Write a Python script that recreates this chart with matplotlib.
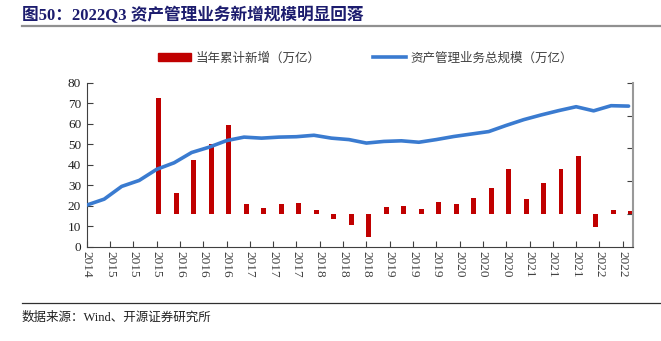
import matplotlib
matplotlib.use("Agg")
import matplotlib.pyplot as plt
from matplotlib.lines import Line2D
from matplotlib.patches import Patch

plt.rcParams['font.family'] = ['Liberation Serif', 'Noto Sans CJK SC', 'DejaVu Sans']
plt.rcParams['axes.unicode_minus'] = False

# 资产管理业务总规模（万亿），季度
line_quarters = ['2014Q4',
                 '2015Q1', '2015Q2', '2015Q3', '2015Q4',
                 '2016Q1', '2016Q2', '2016Q3', '2016Q4',
                 '2017Q1', '2017Q2', '2017Q3', '2017Q4',
                 '2018Q1', '2018Q2', '2018Q3', '2018Q4',
                 '2019Q1', '2019Q2', '2019Q3', '2019Q4',
                 '2020Q1', '2020Q2', '2020Q3', '2020Q4',
                 '2021Q1', '2021Q2', '2021Q3', '2021Q4',
                 '2022Q1', '2022Q2', '2022Q3']
total_scale = [20.4,
               23.3, 29.5, 32.4, 37.8,
               41.0, 46.0, 48.6, 51.8,
               53.5, 53.0, 53.5, 53.7,
               54.4, 53.0, 52.3, 50.6,
               51.4, 51.7, 51.0, 52.3,
               53.8, 55.0, 56.2, 59.2,
               62.0, 64.3, 66.4, 68.3,
               66.3, 68.8, 68.6]

# 当年累计新增（万亿），季度
bar_quarters = line_quarters[4:]
ytd_increase = [17.7,
                3.2, 8.2, 10.6, 13.5,
                1.6, 1.0, 1.6, 1.7,
                0.6, -0.7, -1.6, -3.5,
                1.1, 1.3, 0.8, 1.9,
                1.6, 2.5, 3.9, 6.8,
                2.3, 4.7, 6.8, 8.8,
                -1.9, 0.6, 0.45]

tick_labels = ['2014', '2015', '2015', '2015', '2016', '2016', '2016',
               '2017', '2017', '2017', '2018', '2018', '2018',
               '2019', '2019', '2019', '2020', '2020', '2020',
               '2021', '2021', '2021', '2022', '2022']


def month_index(q):
    # months since 2014-12
    year, quarter = int(q[:4]), int(q[5])
    return (year - 2014) * 12 + quarter * 3 - 12


line_x = [month_index(q) for q in line_quarters]
bar_x = [month_index(q) + 0.4 for q in bar_quarters]
tick_x = [4 * i for i in range(len(tick_labels))]

fig = plt.figure(figsize=(6.61, 3.41), dpi=100)
ax = fig.add_axes([0.1312, 0.2757, 0.8268, 0.4818])
ax2 = ax.twinx()

bar_color = '#C00000'
line_color = '#3A7BD0'

ax2.bar(bar_x, ytd_increase, width=0.85, color=bar_color, zorder=2)
ax.plot(line_x, total_scale, color=line_color, lw=2.6,
        solid_joinstyle='round', solid_capstyle='round', zorder=3)
ax.set_zorder(ax2.get_zorder() + 1)
ax.patch.set_visible(False)

ax.set_xlim(0, 93.8)
ax.set_ylim(0, 80)
ax.set_yticks(range(0, 81, 10))
ax2.set_ylim(-5, 20)
ax2.set_yticks([0, 5, 10, 15, 20])
ax2.set_yticklabels([])

ax.set_xticks(tick_x)
ax.set_xticklabels(tick_labels, rotation=-90, color='#404040', fontsize=9.5)
ax.tick_params(axis='x', direction='in', length=4, color='#404040', pad=3)
ax.tick_params(axis='y', direction='in', length=4, color='#404040',
               labelsize=9.5, labelcolor='#202020', pad=4)
ax2.tick_params(axis='y', direction='in', length=4, color='#404040')

for sp in ['top', 'right']:
    ax.spines[sp].set_visible(False)
for sp in ['top', 'left', 'bottom']:
    ax2.spines[sp].set_visible(False)
ax.spines['left'].set_color('#404040')
ax.spines['bottom'].set_color('#404040')
ax2.spines['right'].set_color('#999999')
ax2.spines['right'].set_linewidth(1.5)

handles = [Patch(color=bar_color), Line2D([0], [0], color=line_color, lw=2.6)]
labels = ['当年累计新增（万亿）', '资产管理业务总规模（万亿）']
fig.legend(handles, labels, loc='center', bbox_to_anchor=(0.553, 0.83), ncol=2,
           frameon=False, handlelength=2.6, handleheight=0.55,
           columnspacing=4.2, handletextpad=0.4,
           labelcolor='#404040', prop={'family': ['Noto Sans CJK SC'], 'size': 9})

fig.text(0.033, 0.955, '图50：2022Q3 资产管理业务新增规模明显回落', fontsize=12,
         fontweight='bold', color='#1C1C6E', va='center', ha='left')
fig.add_artist(Line2D([0.033, 1.0], [0.925, 0.925], color='#909090', lw=1.6))

fig.add_artist(Line2D([0.033, 1.0], [0.112, 0.112], color='#303030', lw=0.9))
fig.text(0.033, 0.068, '数据来源：Wind、开源证券研究所', fontsize=9,
         color='#202020', va='center', ha='left')

fig.savefig('out.png', dpi=100)
